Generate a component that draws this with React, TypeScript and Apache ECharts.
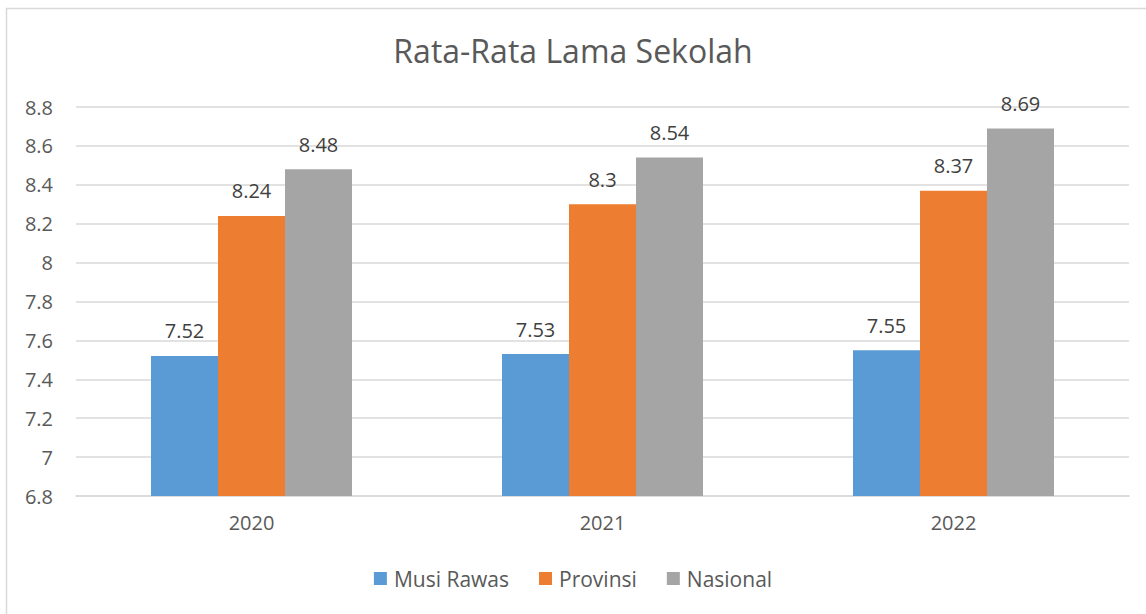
import React, { useEffect, useRef } from "react";
import * as echarts from "echarts";

const categories = ["2020", "2021", "2022"];
const musiRawas = [7.52, 7.53, 7.55];
const provinsi = [8.24, 8.3, 8.37];
const nasional = [8.48, 8.54, 8.69];
const seriesNames = ["Musi Rawas", "Provinsi", "Nasional"];
const colors = ["#5B9BD5", "#ED7D31", "#A5A5A5"];

const FONT = "'Open Sans', 'Noto Sans', sans-serif";

export default function App() {
  const ref = useRef<HTMLDivElement>(null);
  useEffect(() => {
    if (!ref.current) return;
    const chart = echarts.init(ref.current, undefined, { renderer: "svg" });
    const label = {
      show: true,
      position: "top" as const,
      distance: 15,
      color: "#404040",
      fontSize: 20,
      fontFamily: FONT,
    };
    const values = [musiRawas, provinsi, nasional];
    chart.setOption({
      animation: false,
      backgroundColor: "#ffffff",
      textStyle: { fontFamily: FONT },
      title: {
        text: "Rata-Rata Lama Sekolah",
        left: "center",
        top: 29,
        textStyle: { color: "#595959", fontSize: 32, fontWeight: "normal", fontFamily: FONT },
      },
      graphic: [
        {
          type: "rect",
          shape: { x: 6.5, y: 8.5, width: 1200, height: 700 },
          style: { fill: "none", stroke: "#D9D9D9", lineWidth: 1.5 },
          silent: true,
        },
      ],
      legend: {
        bottom: 20,
        left: "center",
        itemWidth: 13,
        itemHeight: 13,
        itemGap: 30,
        icon: "rect",
        textStyle: { color: "#595959", fontSize: 21, fontFamily: FONT, padding: [0, 0, 0, 2] },
        data: seriesNames,
      },
      grid: { left: 76, right: 17, top: 107, bottom: 118 },
      xAxis: {
        type: "category",
        data: categories,
        axisTick: { show: false },
        axisLine: { lineStyle: { color: "#D9D9D9", width: 1.5 } },
        axisLabel: { color: "#595959", fontSize: 20, margin: 16, fontFamily: FONT },
      },
      yAxis: {
        type: "value",
        min: 6.8,
        max: 8.8,
        interval: 0.2,
        axisLine: { show: false },
        axisTick: { show: false },
        splitLine: { lineStyle: { color: "#D9D9D9", width: 1.5 } },
        axisLabel: {
          color: "#595959",
          fontSize: 20,
          margin: 23,
          fontFamily: FONT,
          formatter: (v: number) => String(parseFloat(v.toFixed(1))),
        },
      },
      series: seriesNames.map((name, i) => ({
        name,
        type: "bar",
        data: values[i],
        barWidth: 67,
        barGap: "0%",
        itemStyle: { color: colors[i] },
        label,
      })),
    });
    return () => chart.dispose();
  }, []);
  return (
    <div
      ref={ref}
      style={{ position: "fixed", left: 0, top: 0, width: 1146, height: 614 }}
    />
  );
}
